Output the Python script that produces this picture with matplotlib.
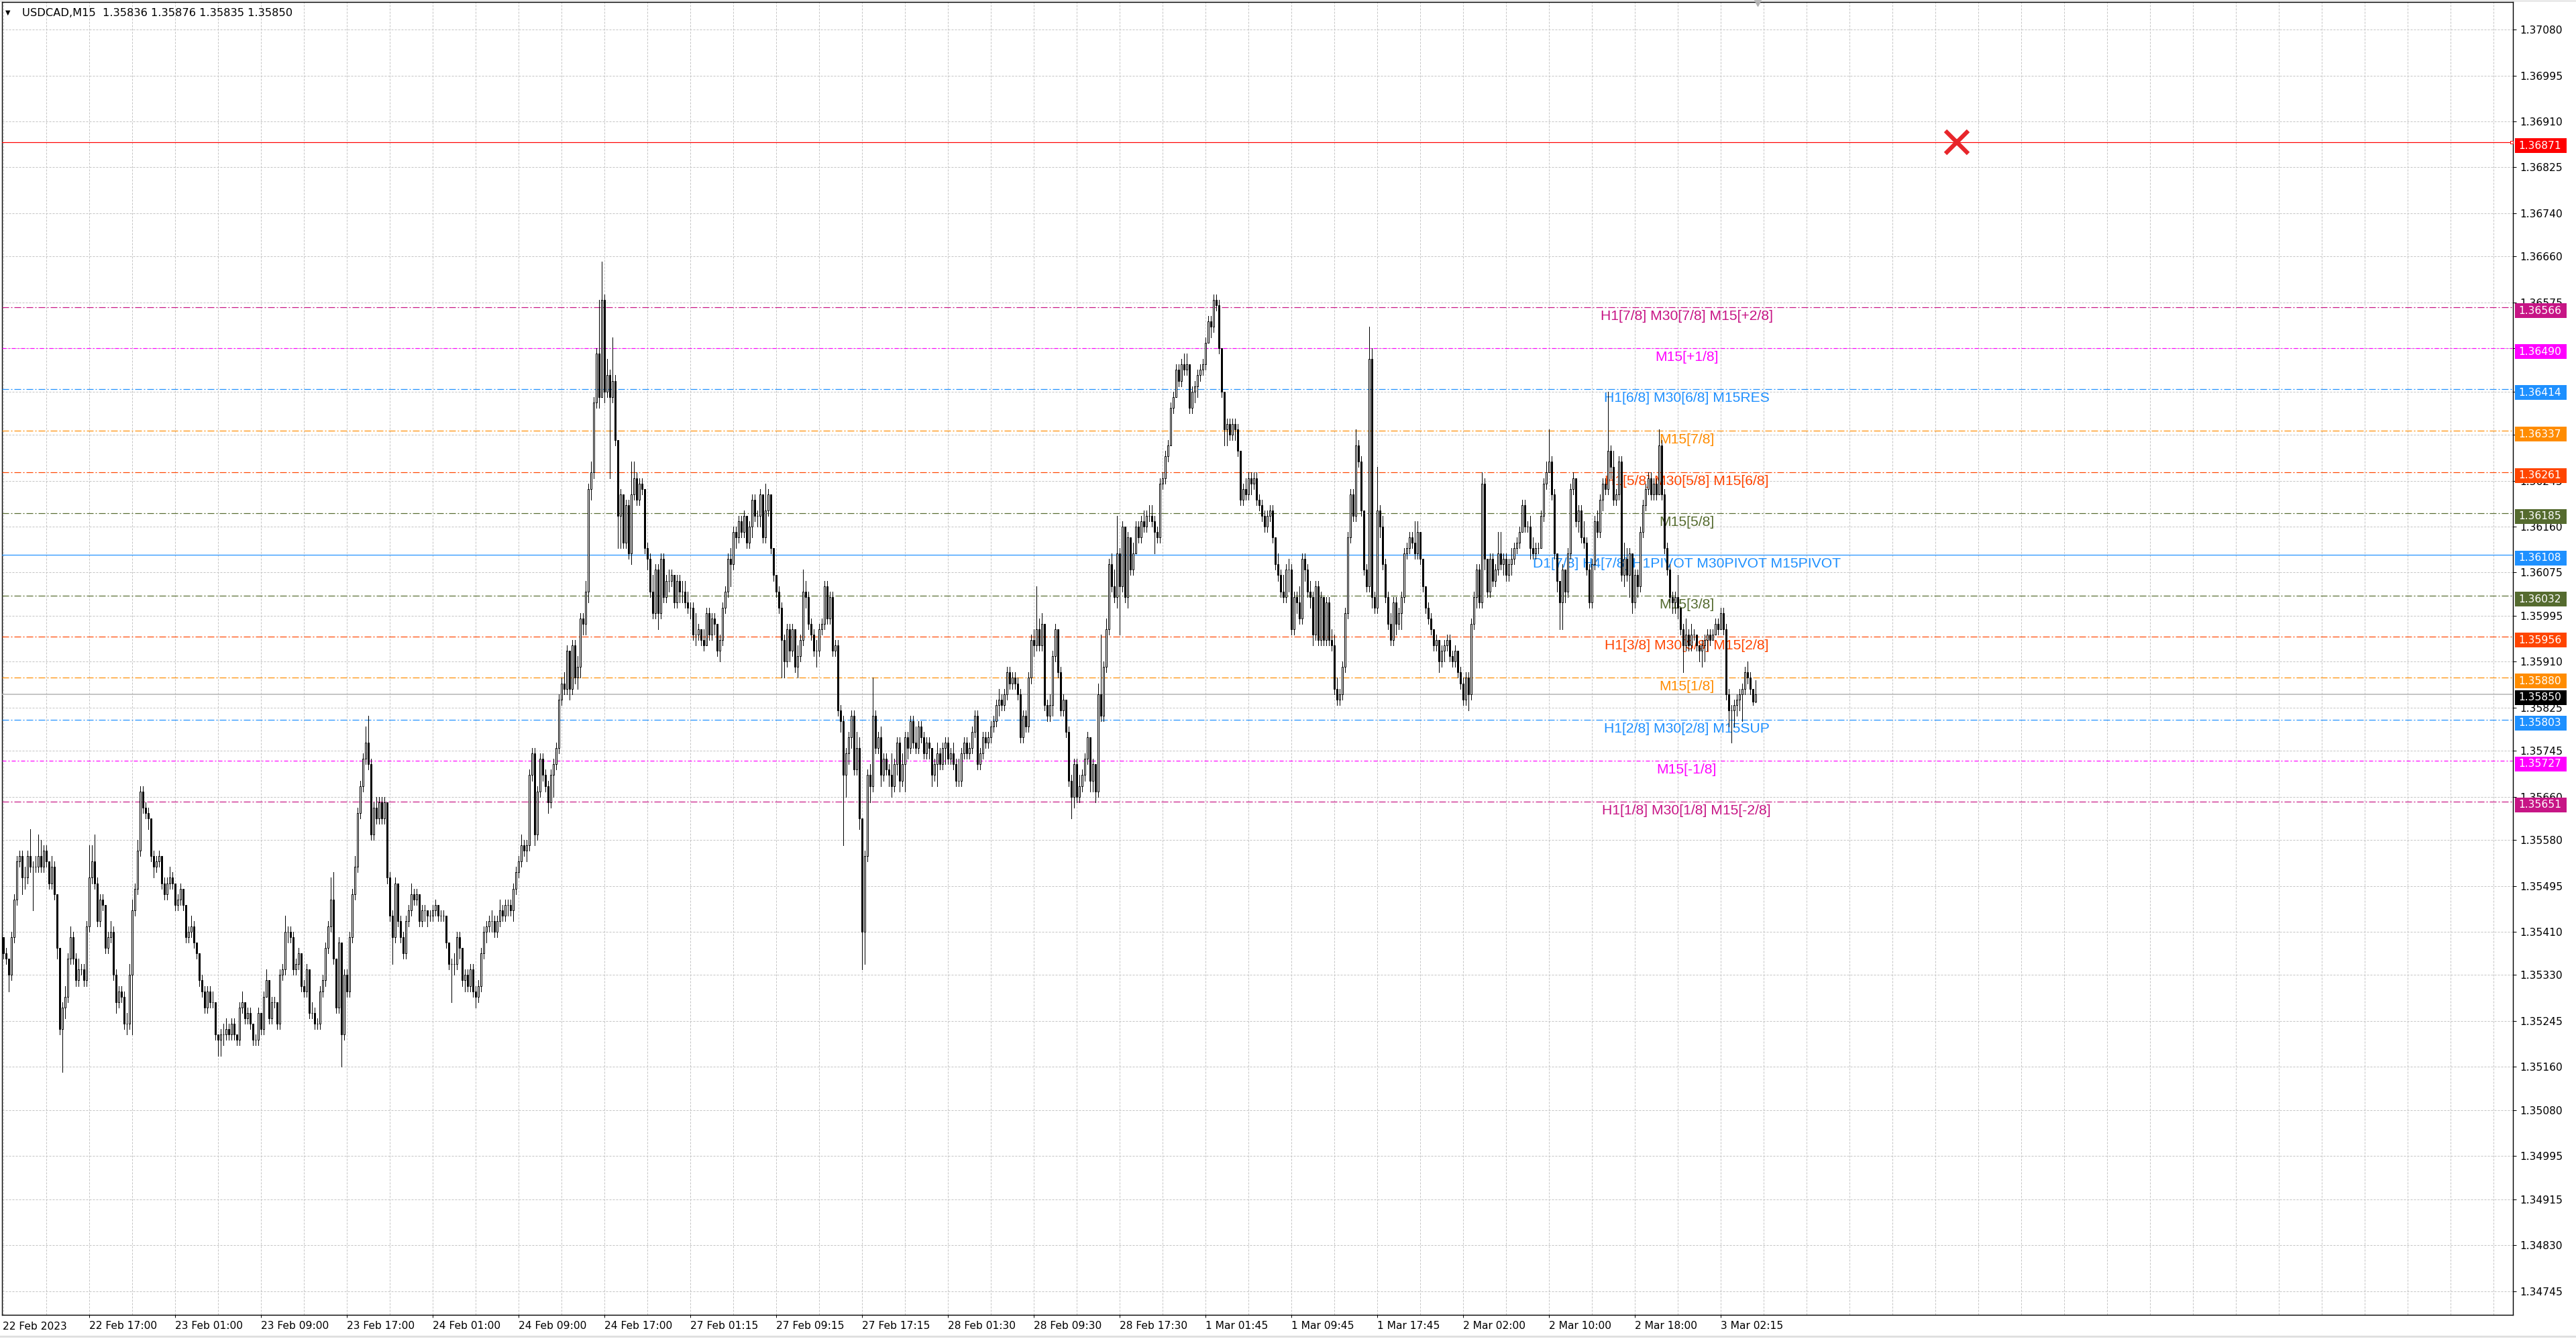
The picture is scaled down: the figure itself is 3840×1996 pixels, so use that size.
import matplotlib
matplotlib.use("Agg")
import matplotlib.pyplot as plt
import numpy as np
from matplotlib.patches import Rectangle
from matplotlib.transforms import blended_transform_factory

plt.rcParams['lines.scale_dashes'] = False
plt.rcParams['font.family'] = ['DejaVu Sans']

# ---------------------------------------------------------------- data
TITLE = "USDCAD,M15  1.35836 1.35876 1.35835 1.35850"
PRICE_BASE = 1.3400      # prices below are pips above this base
PIP = 0.0001
FIRST_OPEN = 140

CLOSE = [
137,136,133,140,147,154,155,151,151,155,
153,153,153,155,153,156,154,150,153,148,
138,123,127,129,136,140,136,132,134,134,
132,142,151,154,150,143,147,146,138,140,
141,133,128,130,129,124,124,133,145,149,
156,167,164,163,162,155,153,154,155,150,
148,150,151,150,146,147,149,146,140,141,
142,139,137,132,130,127,130,128,128,122,
121,122,122,123,122,124,122,121,127,128,
125,126,124,121,121,126,123,129,132,125,
128,128,124,133,134,141,141,140,134,135,
137,131,130,134,126,126,124,124,130,132,
138,142,147,136,127,139,122,133,130,140,
148,153,163,168,173,176,172,159,164,162,
165,162,165,151,144,140,150,143,140,137,
143,145,148,147,148,143,145,145,144,144,
145,146,144,144,144,139,135,135,135,140,
138,132,133,131,134,130,129,131,137,141,
142,143,143,141,143,145,144,146,146,145,
149,152,154,157,156,157,170,174,159,167,
173,170,168,165,170,172,175,184,187,186,
193,186,194,188,190,199,198,204,223,226,
239,248,240,258,241,244,240,243,232,218,
222,213,220,211,222,225,221,224,223,212,
210,204,200,208,200,210,203,206,206,207,
202,206,204,204,202,201,201,196,196,197,
195,194,200,196,199,198,193,195,201,204,
210,209,215,214,217,215,218,213,216,221,
218,218,222,214,219,222,212,207,204,201,
195,191,197,193,197,190,192,195,204,203,
198,196,193,193,197,198,205,199,203,193,
194,182,180,170,174,177,181,171,175,162,
141,155,170,168,181,175,177,170,173,171,
170,168,172,176,169,172,177,175,180,176,
175,179,177,174,176,175,170,172,174,172,
175,176,173,174,172,169,169,174,176,174,
175,178,181,172,174,177,176,177,179,180,
183,184,183,185,189,187,188,187,185,177,
181,179,188,195,194,197,194,198,183,181,
183,192,197,189,182,184,178,169,166,172,
166,168,170,173,177,169,172,167,185,181,
190,197,209,205,203,211,205,216,203,214,
208,211,216,214,217,216,218,218,217,215,
214,224,225,229,231,238,240,245,243,246,
245,246,238,241,242,244,245,246,250,254,
253,258,257,249,241,234,235,233,235,234,
230,221,223,222,225,224,225,221,220,218,
216,218,219,214,209,207,204,203,208,208,
197,203,202,199,210,208,204,203,196,205,
195,203,195,202,195,194,186,184,185,190,
200,214,222,218,231,228,219,208,205,247,
203,201,219,216,209,203,198,195,202,198,
200,203,211,212,214,213,211,215,210,205,
201,199,197,194,195,191,193,194,195,192,
191,193,189,187,184,188,185,198,203,208,
202,224,210,204,210,206,208,211,209,210,
207,209,210,212,213,215,220,216,216,212,
211,212,212,218,224,226,228,222,211,206,
202,208,204,211,223,225,217,219,214,213,
208,202,209,217,215,221,224,223,230,227,
221,222,228,207,210,207,211,202,207,205,
215,220,223,225,222,224,222,231,222,212,
208,203,202,203,201,197,194,196,194,196,
196,194,193,194,195,196,195,196,198,197,
200,197,185,182,182,183,184,185,186,189,
188,186,183.6,185.0]

HIGH = [
140,138,136,141,148,155,156,156,153,156,
160,154,155,159,158,157,157,154,155,154,
148,138,128,131,137,142,141,137,136,135,
135,143,157,157,159,151,148,148,146,141,
143,142,134,131,131,130,126,135,147,150,
158,168,168,165,164,162,156,155,156,155,
151,151,153,152,150,148,150,149,146,142,
144,143,139,137,133,131,131,131,130,128,
122,123,124,125,124,125,125,122,128,130,
128,127,127,124,122,127,126,130,134,132,
129,129,128,134,135,144,142,142,141,136,
138,137,132,135,134,128,127,125,131,133,
139,143,151,152,136,140,139,134,134,141,
149,155,164,169,174,179,181,173,165,166,
166,166,166,165,152,145,151,150,144,141,
144,146,150,149,149,148,146,146,145,145,
146,147,146,145,145,144,139,136,137,141,
141,138,134,134,135,135,131,132,138,142,
143,144,145,144,144,147,146,147,147,147,
150,153,155,159,158,158,171,175,175,168,
174,174,171,169,171,173,176,185,188,189,
194,193,195,195,192,200,200,206,224,228,
240,249,258,265,259,247,245,251,244,232,
223,222,221,221,228,228,226,225,225,223,
213,211,207,209,209,211,211,207,208,208,
207,207,207,206,206,204,202,202,200,198,
197,197,201,201,200,200,198,196,202,205,
211,212,216,216,218,218,219,218,217,222,
222,219,223,222,224,223,222,212,207,205,
202,196,198,198,198,197,194,196,208,206,
204,199,197,195,198,199,206,206,204,204,
195,195,183,181,175,178,182,182,178,177,
162,156,171,172,188,182,178,179,174,174,
172,174,173,177,177,174,178,178,181,181,
179,180,180,178,177,177,175,173,176,175,
176,177,177,175,176,173,173,175,177,177,
176,179,182,182,175,178,178,178,180,181,
184,186,185,186,190,190,189,189,188,186,
182,182,189,196,197,205,199,200,198,184,
185,193,198,197,190,185,184,179,170,173,
173,170,171,174,178,177,173,172,187,196,
191,199,210,211,208,218,212,217,216,215,
214,213,217,217,218,219,219,220,220,218,
216,225,226,230,232,239,241,246,246,247,
248,248,246,242,243,245,246,247,251,255,
255,259,259,258,249,241,236,236,236,236,
235,230,224,225,226,226,226,226,222,221,
219,219,220,220,214,211,208,207,209,210,
209,204,204,205,211,211,209,206,204,206,
206,204,203,203,203,197,196,188,186,191,
201,215,223,223,234,232,229,219,209,253,
249,204,227,220,218,210,204,200,203,203,
201,204,212,213,215,215,217,217,215,210,
205,202,200,197,196,195,194,195,196,196,
193,194,193,190,188,189,189,199,204,209,
209,226,225,210,211,211,209,215,215,211,
211,210,212,213,214,216,221,221,217,218,
214,213,213,219,225,228,234,229,223,211,
206,209,208,212,224,226,225,220,220,217,
214,209,210,218,219,222,225,225,241,231,
230,223,229,229,213,212,212,210,208,208,
216,221,224,226,226,225,225,234,232,223,
213,209,204,204,207,201,198,199,197,198,
197,196,194,195,196,197,197,197,199,199,
201,201,198,186,183,184,185,186,187,190,
191,189,186,187.6]

LOW = [
136,135,130,132,139,146,153,148,149,150,
152,145,152,152,152,152,153,149,149,147,
136,122,115,125,128,135,135,131,131,133,
131,131,141,150,149,142,142,145,137,137,
139,132,126,127,128,123,122,123,122,144,
148,155,163,162,160,154,151,152,153,149,
147,147,149,149,145,145,146,145,139,139,
140,138,136,131,129,126,126,127,127,121,
118,118,120,121,121,121,121,120,120,126,
124,124,123,120,120,120,122,122,129,124,
124,127,123,123,132,133,139,139,133,133,
134,130,129,129,125,125,123,123,123,129,
131,137,141,135,126,126,116,121,129,129,
139,147,152,162,167,172,171,158,158,161,
161,161,161,150,143,135,139,142,139,136,
136,142,144,146,146,142,142,143,142,143,
143,144,143,143,143,138,134,128,133,134,
136,131,130,130,130,129,127,128,130,136,
139,141,141,140,140,142,143,143,144,144,
143,148,151,153,155,154,156,169,157,158,
166,169,167,163,164,166,171,174,183,185,
185,184,185,187,186,188,196,196,202,221,
225,238,238,240,239,240,225,239,231,212,
212,212,212,210,209,221,220,220,222,211,
208,203,199,199,197,199,202,202,204,205,
201,201,202,202,201,200,199,195,194,195,
194,193,194,195,195,196,192,191,194,200,
203,205,208,212,213,214,214,212,212,214,
217,216,216,213,213,218,211,206,203,200,
188,188,190,191,192,189,188,191,194,201,
197,195,192,190,192,196,197,198,198,192,
192,181,178,157,166,172,175,170,170,160,
134,135,154,165,167,174,174,168,169,170,
168,166,167,170,167,168,167,173,174,175,
174,174,176,173,173,173,168,169,168,171,
171,172,172,172,171,168,168,168,173,173,
173,174,177,171,171,173,175,175,176,178,
179,181,182,182,184,186,186,186,184,176,
176,178,178,187,192,193,193,193,182,180,
180,181,191,188,181,181,177,168,162,164,
165,165,167,169,172,167,167,165,166,180,
180,189,196,204,202,201,196,204,202,201,
207,207,211,213,213,215,215,217,216,211,
213,213,223,224,228,231,237,240,242,242,
244,244,237,237,239,240,243,244,245,250,
251,252,256,248,240,231,231,232,232,232,
229,220,220,221,221,222,223,220,219,217,
215,215,217,213,208,206,203,202,202,204,
196,196,200,198,198,206,203,201,194,195,
194,194,194,194,194,193,185,183,183,184,
189,199,213,217,217,227,218,207,204,204,
201,200,200,214,208,202,197,194,194,196,
197,197,202,210,211,212,210,210,209,204,
200,198,196,193,193,189,190,191,193,191,
190,190,188,186,183,183,182,184,197,201,
201,201,208,203,203,205,205,207,208,207,
206,206,207,209,211,212,215,215,215,210,
210,210,211,212,217,223,226,221,210,204,
197,197,202,203,210,222,216,215,213,212,
207,201,201,208,214,214,219,222,222,225,
220,220,221,206,205,206,203,200,201,203,
204,214,219,222,221,221,221,222,221,211,
207,202,200,200,199,196,189,193,193,193,
195,193,191,190,191,193,194,195,196,196,
197,196,184,179,176,179,181,182,180,185,
187,185,183,183.5]

Y_TICKS = [1.37080, 1.36995, 1.36910, 1.36825, 1.36740, 1.36660, 1.36575,
           1.36490, 1.36410, 1.36330, 1.36245, 1.36160, 1.36075, 1.35995,
           1.35910, 1.35825, 1.35745, 1.35660, 1.35580, 1.35495, 1.35410,
           1.35330, 1.35245, 1.35160, 1.35080, 1.34995, 1.34915, 1.34830,
           1.34745]

X_TICK_BARS = [32, 64, 96, 128, 160, 192, 224, 256, 288, 320,
               352, 384, 416, 448, 480, 512, 544, 576, 608, 640]
X_TICK_LABELS = ["22 Feb 17:00", "23 Feb 01:00", "23 Feb 09:00", "23 Feb 17:00",
                 "24 Feb 01:00", "24 Feb 09:00", "24 Feb 17:00", "27 Feb 01:15",
                 "27 Feb 09:15", "27 Feb 17:15", "28 Feb 01:30", "28 Feb 09:30",
                 "28 Feb 17:30", "1 Mar 01:45", "1 Mar 09:45", "1 Mar 17:45",
                 "2 Mar 02:00", "2 Mar 10:00", "2 Mar 18:00", "3 Mar 02:15"]
FIRST_DATE = "22 Feb 2023"

LEVEL_PRICES = [1.36566, 1.36490, 1.36414, 1.36337, 1.36261, 1.36185, 1.36108,
                1.36032, 1.35956, 1.35880, 1.35803, 1.35727, 1.35651]
LEVEL_LABELS = ["H1[7/8] M30[7/8] M15[+2/8]", "M15[+1/8]", "H1[6/8] M30[6/8] M15RES",
                "M15[7/8]", "H1[5/8] M30[5/8] M15[6/8]", "M15[5/8]",
                "D1[7/8] H4[7/8] H1PIVOT M30PIVOT M15PIVOT", "M15[3/8]",
                "H1[3/8] M30[3/8] M15[2/8]", "M15[1/8]", "H1[2/8] M30[2/8] M15SUP",
                "M15[-1/8]", "H1[1/8] M30[1/8] M15[-2/8]"]
LEVEL_COLORS = ['#C71585', '#FF00FF', '#1E90FF', '#FF8C00', '#FF4500', '#556B2F',
                '#1E90FF', '#556B2F', '#FF4500', '#FF8C00', '#1E90FF', '#FF00FF',
                '#C71585']
LEVEL_STYLES = ['dashdot', 'dashdotshort', 'dashdot', 'dashdot', 'dashdot', 'dashdot',
                'solid', 'dashdot', 'dashdot', 'dashdot', 'dashdot', 'dashdotshort',
                'dashdot']
ALERT_PRICE = 1.36871
ALERT_BAR = 728
CURRENT_PRICE = 1.35850

assert len(CLOSE) == len(HIGH) == len(LOW)

# ---------------------------------------------------------------- layout
W, H, DPI = 3840, 1996, 100
PX = 72.0 / DPI
L, R, T, B = 3, 3746, 3, 1960
XLIM = (-0.5, 935.25)
YLIM = (1.34701, 1.37131)
LABEL_BAR = 627.3
AX_FONT = 11.2

fig = plt.figure(figsize=(W / DPI, H / DPI), dpi=DPI, facecolor='white')
ax = fig.add_axes([L / W, 1 - B / H, (R - L) / W, (B - T) / H])
ax.set_facecolor('white')
ax.set_autoscale_on(False)
ax.set_xlim(*XLIM)
ax.set_ylim(*YLIM)
px_per_price = (B - T) / (YLIM[1] - YLIM[0])

close = PRICE_BASE + PIP * np.array(CLOSE, float)
high = PRICE_BASE + PIP * np.array(HIGH, float)
low = PRICE_BASE + PIP * np.array(LOW, float)
open_ = PRICE_BASE + PIP * np.concatenate([[FIRST_OPEN], np.array(CLOSE[:-1], float)])
idx = np.arange(len(close))

# grid
grid_style = (0, (3 * PX, 2 * PX))
ax.set_axisbelow(True)
ax.set_yticks(Y_TICKS)
ax.set_yticklabels([f"{v:.5f}" for v in Y_TICKS])
ax.set_xticks(X_TICK_BARS)
ax.set_xticklabels(X_TICK_LABELS, ha='left')
minor = [v for v in range(0, int(XLIM[1]) + 1, 16) if v not in X_TICK_BARS]
ax.set_xticks(minor, minor=True)
ax.grid(True, which='both', axis='x', color='#C4C4C4', linewidth=1 * PX, linestyle=grid_style)
ax.grid(True, which='major', axis='y', color='#C4C4C4', linewidth=1 * PX, linestyle=grid_style)

ax.yaxis.tick_right()
ax.tick_params(axis='y', which='major', direction='out', length=5 * PX, width=1 * PX,
               pad=5 * PX, labelsize=AX_FONT, colors='black')
ax.tick_params(axis='x', which='major', direction='out', length=4 * PX, width=1 * PX,
               pad=5 * PX, labelsize=AX_FONT, colors='black')
ax.tick_params(axis='x', which='minor', length=0)
for sp in ax.spines.values():
    sp.set_color('black')
    sp.set_linewidth(1.4 * PX)

# level lines and labels
DASH = {'dashdot': (0, (10 * PX, 3 * PX, 2 * PX, 3 * PX)),
        'dashdotshort': (0, (6 * PX, 3 * PX, 2 * PX, 3 * PX)),
        'solid': '-'}
for p, lab, col, st in zip(LEVEL_PRICES, LEVEL_LABELS, LEVEL_COLORS, LEVEL_STYLES):
    ax.axhline(p, color=col, linewidth=1.2 * PX, linestyle=DASH[st], zorder=3)
    ax.text(LABEL_BAR, p - 4 / px_per_price, lab, color=col, ha='center', va='top',
            fontsize=15.2, family=['Liberation Sans', 'DejaVu Sans'], zorder=3.5)

ax.axhline(CURRENT_PRICE, color='#B4B4B4', linewidth=1.5 * PX, zorder=3)
ax.axhline(ALERT_PRICE, color='#FF0000', linewidth=1.2 * PX, zorder=3)

# candles
ax.vlines(idx, low, high, colors='black', linewidth=1.0 * PX, zorder=4, antialiased=False)
up = close >= open_
bot = np.minimum(open_, close)
hgt = np.abs(close - open_)
ax.bar(idx[up], hgt[up], bottom=bot[up], width=0.55, facecolor='white',
       edgecolor='black', linewidth=1.0 * PX, zorder=5)
ax.bar(idx[~up], hgt[~up], bottom=bot[~up], width=0.55, facecolor='black',
       edgecolor='black', linewidth=1.0 * PX, zorder=5)

# markers
ax.plot([ALERT_BAR], [ALERT_PRICE], marker='x', markersize=24, markeredgewidth=4.5,
        color='#E8262B', zorder=12, clip_on=False, linestyle='none')
ax.plot([XLIM[1] - 0.6], [ALERT_PRICE], marker='s', markersize=3.5, markerfacecolor='white',
        markeredgecolor='#FF0000', markeredgewidth=1 * PX, zorder=12, clip_on=False,
        linestyle='none')
ax.plot([len(close) - 0.25], [YLIM[1]], marker='v', markersize=9, color='#B0B0B0',
        zorder=12, clip_on=False, linestyle='none')

# right-side price tags (drawn slightly below their price, as in the terminal)
trans = blended_transform_factory(fig.transFigure, ax.transData)
tag_h = 22 / px_per_price
tag_shift = 5 / px_per_price
tags = [(ALERT_PRICE, '#FF0000')] + list(zip(LEVEL_PRICES, LEVEL_COLORS)) + [(CURRENT_PRICE, '#000000')]
for p, col in tags:
    yc = p - tag_shift
    ax.add_patch(Rectangle((3749 / W, yc - tag_h / 2), 77 / W, tag_h, transform=trans,
                           facecolor=col, edgecolor='none', clip_on=False, zorder=10))
    ax.text(3754 / W, yc, f"{p:.5f}", transform=trans, color='white', fontsize=AX_FONT,
            ha='left', va='center', zorder=11, clip_on=False)

# header and first date
fig.text(8 / W, 1 - 19 / H, '\u25BC', fontsize=7, ha='left', va='center', color='black')
fig.text(33 / W, 1 - 20 / H, TITLE, fontsize=11.7, ha='left', va='center', color='black')
fig.text(4 / W, 1 - 1970 / H, FIRST_DATE, fontsize=AX_FONT, ha='left', va='top', color='black')

# window edge lines
fig.add_artist(plt.Line2D([0, 1], [1 - 1992 / H, 1 - 1992 / H], transform=fig.transFigure,
                          color='#E0E0E0', linewidth=3 * PX))
fig.add_artist(plt.Line2D([0, 1], [1 - 0.5 / H, 1 - 0.5 / H], transform=fig.transFigure,
                          color='#C8C8C8', linewidth=1 * PX))

fig.savefig('out.png', dpi=DPI, facecolor='white')
